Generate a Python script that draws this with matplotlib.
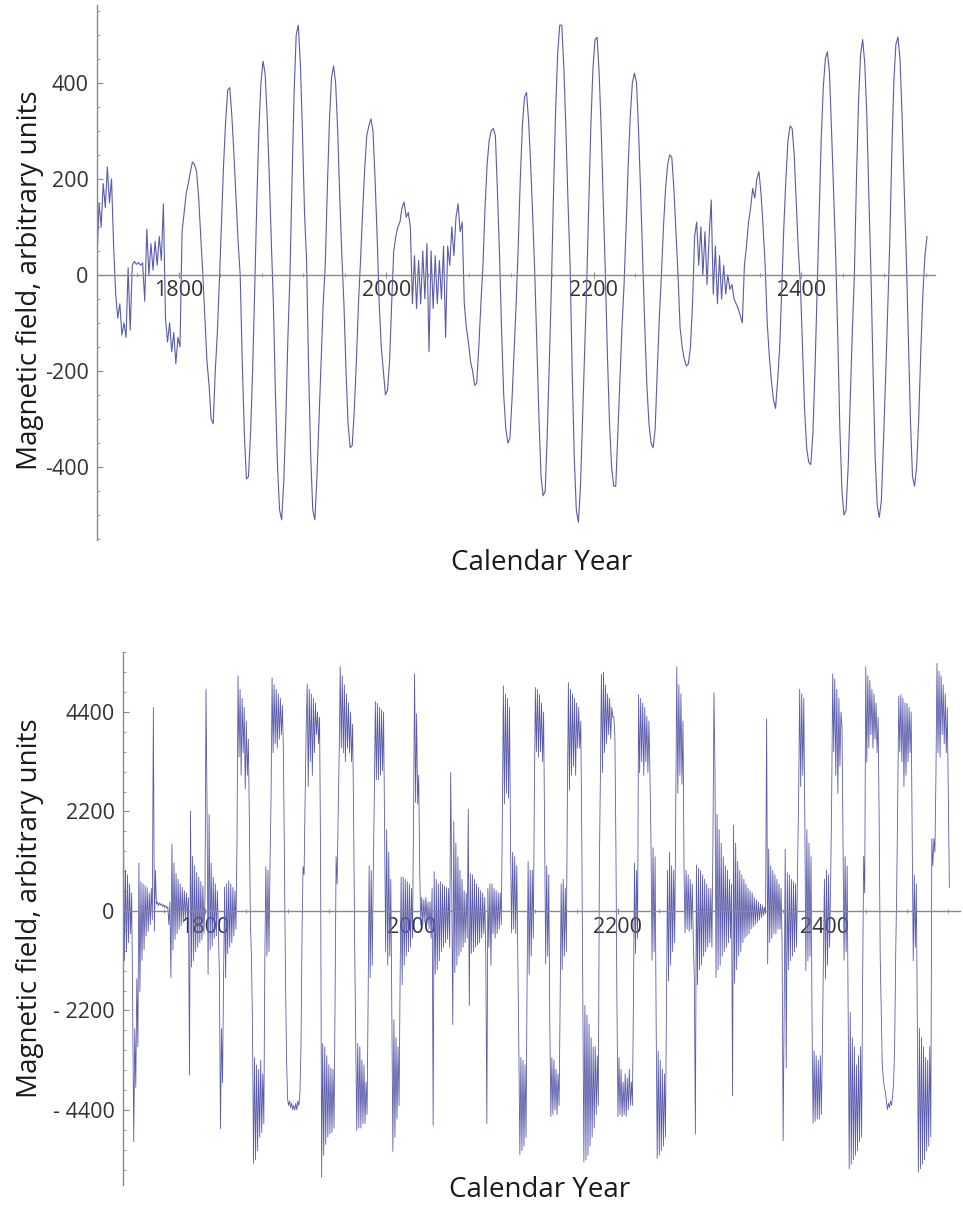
import numpy as np
import matplotlib
matplotlib.use("Agg")
import matplotlib.pyplot as plt
from matplotlib.ticker import MultipleLocator

plt.rcParams['font.family'] = ['Open Sans', 'DejaVu Sans']

# upper chart: sampled every 2 years, 1721 .. 2521
top_years = np.arange(1721, 2522, 2)
top_field = [
    30, 150, 100, 190, 140, 225, 150, 200, 60, -40,            # 1721
    -90, -60, -125, -100, -130, 15, -115, 20, 28, 22,          # 1741
    26, 20, 25, -55, 95, 0, 65, 10, 70, 20,                    # 1761
    80, 30, 148, -90, -140, -100, -160, -120, -185, -130,      # 1781
    -150, 90, 130, 170, 190, 215, 235, 230, 215, 160,          # 1801
    80, 0, -90, -180, -230, -300, -310, -200, -120, -10,       # 1821
    110, 230, 320, 385, 390, 330, 250, 160, 70, 0,             # 1841
    -180, -330, -425, -420, -330, -200, -30, 150, 300, 400,    # 1861
    445, 420, 330, 210, 70, -60, -250, -400, -490, -510,       # 1881
    -430, -300, -130, 0, 200, 380, 500, 520, 440, 300,         # 1901
    130, 30, -200, -380, -490, -510, -420, -300, -180, -60,    # 1921
    20, 180, 320, 410, 435, 400, 300, 160, 40, -60,            # 1941
    -200, -310, -360, -355, -280, -180, -60, 30, 130, 220,     # 1961
    290, 310, 325, 300, 200, 80, -60, -150, -200, -250,        # 1981
    -240, -180, -60, 50, 80, 100, 110, 140, 152, 120,          # 2001
    130, 100, -60, 40, -70, 30, -60, 50, -50, 65,              # 2021
    -160, 50, -70, 40, -60, 30, -50, 60, -130, 60,             # 2041
    20, 100, 40, 120, 148, 90, 110, -60, -110, -140,           # 2061
    -180, -200, -230, -225, -150, -60, 20, 140, 230, 280,      # 2081
    300, 305, 290, 170, 40, -120, -250, -320, -350, -340,      # 2101
    -260, -160, -60, 60, 200, 310, 370, 380, 320, 230,         # 2121
    120, 0, -150, -300, -420, -460, -450, -330, -180, -20,     # 2141
    170, 340, 460, 520, 520, 430, 300, 150, 20, -200,          # 2161
    -380, -490, -515, -440, -300, -160, -20, 150, 310, 430,    # 2181
    490, 495, 420, 300, 150, 0, -170, -310, -400, -440,        # 2201
    -440, -330, -220, -110, -20, 100, 230, 330, 400, 420,      # 2221
    400, 300, 170, 30, -110, -230, -310, -350, -360, -320,     # 2241
    -200, -90, 0, 100, 180, 230, 250, 245, 180, 90,            # 2261
    0, -110, -150, -175, -190, -185, -150, -60, 80, 110,       # 2281
    20, 100, 0, 90, -20, 80, 156, -40, 60, -60,                # 2301
    40, -50, 20, -40, 0, -30, -20, -50, -60, -70,              # 2321
    -85, -100, 20, 60, 110, 140, 180, 160, 200, 215,           # 2341
    170, 100, 20, -100, -170, -220, -260, -278, -220, -150,    # 2361
    -30, 100, 200, 280, 310, 305, 250, 150, 50, -20,           # 2381
    -150, -280, -360, -390, -395, -330, -200, -40, 120, 280,   # 2401
    390, 450, 465, 420, 300, 170, 40, -130, -320, -450,        # 2421
    -500, -490, -400, -260, -120, 0, 200, 360, 460, 490,       # 2441
    440, 330, 160, 0, -200, -380, -480, -505, -470, -350,      # 2461
    -220, -80, 60, 250, 400, 480, 495, 450, 330, 180,          # 2481
    40, -130, -300, -420, -440, -400, -300, -160, -40, 40,     # 2501
    80,                                                        # 2521
]

# lower chart: yearly, 1721 .. 2521
bottom_years = np.arange(1721, 2522, 1)
bottom_field = [
    1980, -1100, 900, -900, 800, -700, 600, -500, 400, -2200, -5100, -2600, -3900, -1500, -3000, 1060, -1780, 640, -1090, 600,          # 1721
    -860, 560, -550, 520, -450, 400, -300, 500, -200, 4500, -440, 900, 150, 200, 120, 180, 130, 160, 100, 140,                           # 1741
    80, 120, 60, 90, -300, 200, -1475, 1480, -860, 1060, -630, 830, -500, 700, -400, 600, -320, 520, -250, 450,                          # 1761
    -200, 400, -150, 300, -3625, 2210, -1240, 1210, -1100, 1000, -900, 850, -800, 750, -700, 650, -630, 550, -500, 300,                  # 1781
    4900, 2290, -1400, 2135, -860, 1060, -780, 750, -600, 600, -550, 450, -400, -1500, -4815, -2600, -3800, -1500, 530, -1480,           # 1801
    600, -940, 670, -800, 600, -700, 520, -550, 450, -400, 1500, 5200, 3400, 4900, 3000, 4700, 3500, 4500, 2700, 4200,                   # 1821
    3000, 3800, 2000, -300, -980, -2500, -5580, -3240, -5500, -3400, -5300, -3500, -5000, -3300, -4900, -3600, -4700, -1000, 980, -1000, # 1841
    900, -900, 1060, 2500, 5150, 3500, 5000, 3700, 4900, 3600, 4800, 3800, 4700, 3900, 4550, 3500, 1000, -1500, -3240, -4150,            # 1861
    -4300, -4200, -4350, -4250, -4400, -4300, -4400, -4250, -4400, -4200, -4300, -4000, -3000, -500, 980, 800, 2500, 4000, 5015, 2750,   # 1881
    4900, 3300, 4800, 3000, 4700, 3500, 4600, 3900, 4400, 3700, 4285, 1000, -5890, -2930, -5400, -3000, -5160, -3200, -5000, -3400,      # 1901
    -4930, -3470, -4900, -3500, -4800, -2000, 1200, 600, 2135, 3500, 5400, 3600, 5200, 3500, 5000, 3300, 4800, 3600, 4600, 3500,         # 1921
    4400, 3300, 4130, 2000, -780, -2930, -4850, -2930, -4800, -3000, -4800, -3300, -4700, -3400, -4700, -3780, -4500, -2000, 1000, -1475, # 1941
    900, -1200, 800, 2500, 4630, 2900, 4590, 2900, 4500, 3000, 4450, 3100, 4400, 1830, -900, 1800, -1200, 1300, -1000, 700,              # 1961
    -2400, -5315, -2400, -5000, -2800, -4600, -3000, -4300, -1500, 750, -1630, 750, -1200, 700, -1000, 650, -900, 600, -800, 500,        # 1981
    -600, 2000, 5245, 2400, 4360, 2365, 3000, 900, -300, 300, -300, 250, -250, 300, -300, 200, -400, 200, -600, 500,                     # 2001
    -4740, 870, -1400, 700, -1300, 600, -1100, 650, -900, 600, -800, 550, -700, 520, -630, 500, -800, 3060, 600, -2510,                  # 2021
    1980, -1360, 1500, -1200, 1200, -1000, 900, -900, 700, -800, 450, -700, 400, -600, 2250, -2090, 830, -940, 800, -900,                # 2041
    700, -800, 600, -750, 520, -700, 450, -600, 400, -500, 300, -1000, -4700, 500, -800, 600, -1200, 600, -500, 500,                     # 2061
    -600, 450, -500, 400, -400, 400, -300, 2000, 4980, 2365, 4800, 2600, 4700, 2500, 4500, 1370, -480, 1300, -400, 1200,                 # 2081
    -500, 1000, -1000, -3000, -5390, -3240, -5300, -3300, -5200, -3400, -5000, -1500, 1100, -1400, 900, -1000, 900, -600, 2500, 4940,    # 2101
    3520, 4900, 3400, 4785, 3520, 4600, 3300, 4400, 1750, -1170, 1000, -1000, 800, -2500, -4545, -3240, -4500, -3300, -4400, -3500,      # 2121
    -4500, -3600, -4300, -2000, 600, -1300, 700, -1000, 500, -900, 2500, 5050, 2670, 4900, 3000, 4800, 3200, 4700, 3000, 4600,           # 2141
    3600, 4500, 3600, 4200, 1500, -2000, -5545, -2090, -5500, -2300, -5400, -2500, -5200, -2800, -5000, -3010, -4800, -3000, -4500, -3200, # 2161
    -4300, 1000, 3000, 5230, 3060, 5280, 3500, 5000, 3700, 4800, 3900, 4700, 3800, 4500, 4285, 4300, 3900, 1500, -2000, -4545,           # 2181
    -3240, -4500, -3500, -4545, -3780, -4500, -3600, -4545, -3700, -4400, -3500, -4300, -3780, -4300, -2000, 1060, -940, 900, -600, 4785, # 2201
    3060, 4700, 3300, 4600, 3000, 4500, 3300, 4300, 3060, 4200, 3000, 1520, -1090, 1400, -900, 1200, -2500, -5470, -3100, -5400,         # 2221
    -3300, -5300, -3500, -5200, -3600, -5000, -2000, 900, -1550, 1300, -1200, 1000, -900, 900, -700, 2500, 5400, 2600, 5000, 3000,       # 2241
    4800, 2800, 4200, 900, -480, 900, -400, 800, -450, 700, -400, 600, -700, -1500, -4930, 1020, -1630, 950, -1300, 900,                 # 2261
    -1200, 800, -1000, 700, -900, 600, -800, 500, -700, 500, -800, 1500, 4820, 3060, -1475, 2135, -1300, 1800, -1200, 1500,              # 2281
    -1000, 1200, -900, 1000, -800, 900, -700, 700, -600, 600, -4085, 1900, -1600, 1500, -1300, 1100, -1000, 900, -900, 800,              # 2301
    -700, 700, -600, 600, -550, 500, -500, 450, -400, 400, -350, 300, -300, 250, -250, 200, -200, 150, -150, 120,                        # 2321
    -100, 80, -60, 4250, -1170, 1370, -700, 1000, -600, 900, -500, 800, -500, 700, -400, 600, -400, 500, -780, -5080,                    # 2341
    -2165, 1370, -3470, 850, -1300, 800, -1100, 700, -1000, 650, -900, 600, -800, 1000, 2500, 4900, 2750, 4800, 3000, 4700,              # 2361
    1980, -1320, 1800, -1100, 1500, -1000, 1200, -2500, -4700, -3090, -4650, -3200, -4600, -3300, -4600, -3200, -4500, -3000, -1000, 700, # 2381
    -1500, 900, -1200, 800, -800, 600, 2500, 5245, 3520, 5130, 3000, 4900, 2600, 4700, 3200, 4400, 4055, 1440, -1090, 1200,              # 2401
    -900, 1000, -2500, -5700, -2240, -5600, -2800, -5500, -3000, -5400, -3400, -5300, -3200, -5100, -3000, -5000, -1500, 1210, 400, 5400, # 2421
    3290, 5200, 3600, 5100, 3900, 4900, 3600, 4800, 3800, 4600, 3500, 4285, 2000, -1000, -2240, -3400, -3700, -3900, -4000, -4200,       # 2441
    -4390, -4250, -4350, -4200, -4300, -4100, -3800, -3000, -1000, 500, 2500, 4750, 3520, 4785, 3300, 4700, 2750, 4600, 3000, 4590,      # 2461
    3300, 4500, 3500, 4400, 1500, -1100, 800, -800, 600, -2500, -5775, -2600, -5700, -2800, -5600, -3000, -5500, -3240, -5300, -3300,    # 2481
    -5200, -3000, -5000, 1600, 1000, 1600, 1300, 3000, 5475, 3500, 5300, 3400, 5200, 3900, 5000, 3700, 4800, 3500, 4500, 2500,           # 2501
    520,                                                                                                                                 # 2521
]

top_ticks = [400, 200, 0, -200, -400]
top_ticklabels = ['400', '200', '0', '-200', '-400']
bottom_ticks = [4400, 2200, 0, -2200, -4400]
bottom_ticklabels = ['4400', '2200', '0', '- 2200', '- 4400']
year_ticks = [1800, 2000, 2200, 2400]

line_col = '#5b5bab'
axis_col = '#8a8a8a'

fig = plt.figure(figsize=(9.63, 12.05), dpi=100)
W, H = 963, 1205
ax1 = fig.add_axes([97 / W, 1 - 540 / H, (935 - 97) / W, (540 - 5) / H])
ax2 = fig.add_axes([123 / W, 1 - 1185 / H, (960 - 123) / W, (1185 - 652) / H])


def style(ax, yt, ytl, yminor):
    for s in ['top', 'right']:
        ax.spines[s].set_visible(False)
    ax.spines['bottom'].set_position(('data', 0))
    for s in ['left', 'bottom']:
        ax.spines[s].set_color(axis_col)
        ax.spines[s].set_linewidth(1.0)
    ax.set_yticks(yt, labels=ytl)
    ax.yaxis.set_minor_locator(MultipleLocator(yminor))
    ax.set_xticks(year_ticks, labels=[str(y) for y in year_ticks])
    ax.xaxis.set_minor_locator(MultipleLocator(40))
    ax.tick_params(axis='y', which='major', direction='in', length=4,
                   color=axis_col, labelsize=15.5, labelcolor='#333333', pad=6)
    ax.tick_params(axis='y', which='minor', direction='in', length=2,
                   color=axis_col)
    ax.tick_params(axis='x', which='major', direction='inout', length=4,
                   color=axis_col, labelsize=15.5, labelcolor='#333333', pad=2)
    ax.tick_params(axis='x', which='minor', direction='inout', length=3,
                   color=axis_col)
    ax.patch.set_alpha(0)


ax1.plot(top_years, top_field, color=line_col, lw=0.8)
ax1.set_xlim(1721, 2528.7)
ax1.set_ylim(-552, 562)
style(ax1, top_ticks, top_ticklabels, 50)

ax2.plot(bottom_years, bottom_field, color=line_col, lw=0.6)
ax2.set_xlim(1720.6, 2531.3)
ax2.set_ylim(-6058, 5726)
style(ax2, bottom_ticks, bottom_ticklabels, 440)

for yc in (280, 908):
    fig.text(30 / W, 1 - yc / H, 'Magnetic field, arbitrary units',
             rotation=90, ha='center', va='center', fontsize=20,
             color='#1a1a1a')
fig.text(542 / W, 1 - 563 / H, 'Calendar Year', ha='center', va='center',
         fontsize=20, color='#1a1a1a')
fig.text(540 / W, 1 - 1190 / H, 'Calendar Year', ha='center', va='center',
         fontsize=20, color='#1a1a1a')

fig.savefig('out.png', dpi=100, facecolor='white')
